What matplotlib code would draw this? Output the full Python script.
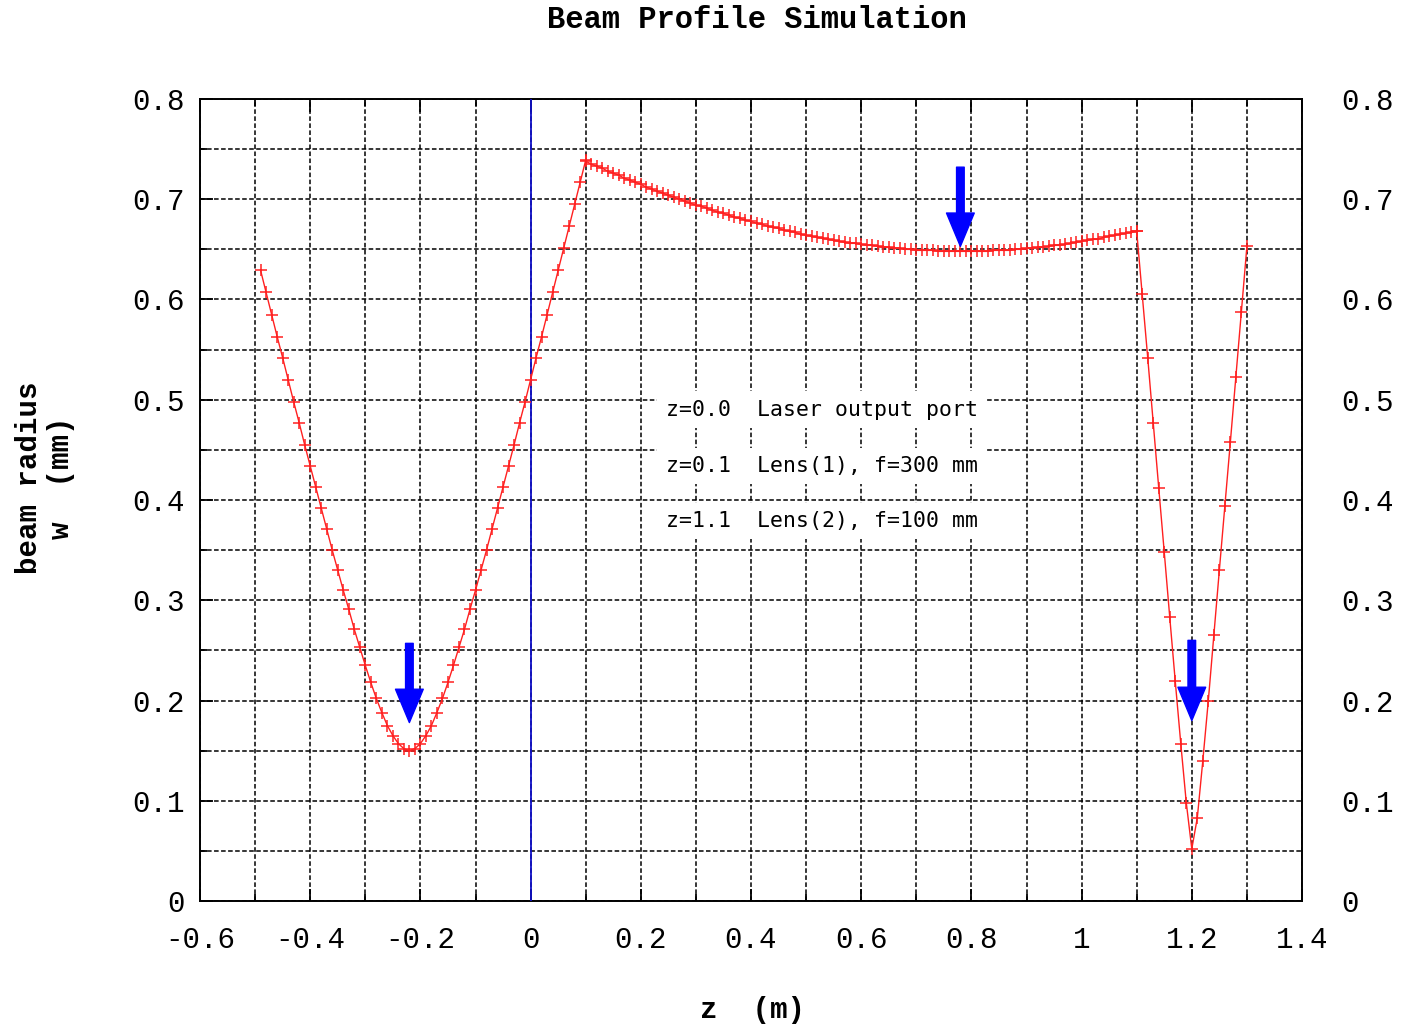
import numpy as np
import matplotlib
matplotlib.use('Agg')
from matplotlib import pyplot as plt

# beam radius, one point per 0.01 m
z1 = np.round(np.arange(-0.49, 0.105, 0.01), 2)
w1 = [0.629, 0.607, 0.585, 0.563, 0.542, 0.520, 0.498, 0.477, 0.455, 0.434,
      0.413, 0.392, 0.371, 0.350, 0.330, 0.310, 0.291, 0.271, 0.253, 0.235,
      0.218, 0.202, 0.188, 0.175, 0.165, 0.157, 0.152, 0.150, 0.152, 0.157,
      0.165, 0.175, 0.188, 0.202, 0.218, 0.235, 0.253, 0.271, 0.291, 0.310,
      0.330, 0.350, 0.371, 0.392, 0.413, 0.434, 0.455, 0.477, 0.498, 0.520,
      0.542, 0.563, 0.585, 0.607, 0.629, 0.651, 0.673, 0.695, 0.717, 0.739]

z2 = np.round(np.arange(0.10, 1.105, 0.01), 2)
w2 = [0.738, 0.735, 0.733, 0.731, 0.728, 0.726, 0.724, 0.721, 0.719, 0.717,
      0.715, 0.712, 0.710, 0.708, 0.706, 0.704, 0.702, 0.700, 0.698, 0.696,
      0.694, 0.693, 0.691, 0.689, 0.687, 0.686, 0.684, 0.682, 0.681, 0.679,
      0.678, 0.676, 0.675, 0.673, 0.672, 0.671, 0.669, 0.668, 0.667, 0.665,
      0.664, 0.663, 0.662, 0.661, 0.660, 0.659, 0.658, 0.657, 0.656, 0.656,
      0.655, 0.654, 0.654, 0.653, 0.652, 0.652, 0.651, 0.651, 0.650, 0.650,
      0.649, 0.649, 0.649, 0.649, 0.648, 0.648, 0.648, 0.648, 0.648, 0.648,
      0.648, 0.648, 0.648, 0.648, 0.649, 0.649, 0.649, 0.649, 0.650, 0.650,
      0.651, 0.651, 0.652, 0.652, 0.653, 0.654, 0.654, 0.655, 0.656, 0.657,
      0.658, 0.659, 0.660, 0.660, 0.662, 0.663, 0.664, 0.665, 0.666, 0.667,
      0.668]

z3 = np.round(np.arange(1.10, 1.305, 0.01), 2)
w3 = [0.668, 0.605, 0.542, 0.477, 0.412, 0.348, 0.283, 0.219, 0.157, 0.098,
      0.052, 0.083, 0.140, 0.200, 0.265, 0.330, 0.394, 0.458, 0.523, 0.588,
      0.653]

# waist markers: z, arrow top, arrow tip
arrows_z = [-0.22, 0.78, 1.20]
arrows_top = [0.257, 0.732, 0.260]
arrows_tip = [0.178, 0.653, 0.180]

notes = ['z=0.0  Laser output port',
         'z=0.1  Lens(1), f=300 mm',
         'z=1.1  Lens(2), f=100 mm']
notes_y = [0.49, 0.434, 0.379]

xticks = np.arange(-0.6, 1.41, 0.2)
xlabels = ['-0.6', '-0.4', '-0.2', '0', '0.2', '0.4', '0.6', '0.8', '1', '1.2', '1.4']
yticks = np.arange(0, 0.81, 0.1)
ylabels = ['0', '0.1', '0.2', '0.3', '0.4', '0.5', '0.6', '0.7', '0.8']

mono = 'Liberation Mono'
tsize = 21

fig = plt.figure(figsize=(14.01, 10.25), dpi=100)
ax = fig.add_axes([200 / 1401, 124 / 1025, 1102 / 1401, 802 / 1025])

ax.set_xlim(-0.6, 1.4)
ax.set_ylim(0, 0.8)
ax.set_xticks(xticks)
ax.set_xticks(np.arange(-0.5, 1.41, 0.2), minor=True)
ax.set_yticks(yticks)
ax.set_yticks(np.arange(0.05, 0.8, 0.1), minor=True)
ax.set_xticklabels(xlabels, fontfamily=mono, fontsize=tsize)
ax.set_yticklabels(ylabels, fontfamily=mono, fontsize=tsize)

ax.grid(True, which='both', color='black', linestyle=(0, (3, 1.6)), linewidth=1.1)
ax.set_axisbelow(True)
ax.tick_params(which='both', direction='in', top=True, right=True, width=1.3)
ax.tick_params(which='major', length=9)
ax.tick_params(which='minor', length=5)
ax.tick_params(axis='x', pad=18)
ax.tick_params(axis='y', pad=11)
for sp in ax.spines.values():
    sp.set_linewidth(1.4)

# right-hand labels sit further out
ax2 = ax.twinx()
ax2.set_ylim(0, 0.8)
ax2.set_yticks(yticks)
ax2.set_yticklabels(ylabels, fontfamily=mono, fontsize=tsize)
ax2.tick_params(axis='y', length=0, pad=28)
for sp in ax2.spines.values():
    sp.set_visible(False)

ax.axvline(0, color='#1010c8', linewidth=1.3, zorder=3)

for zz, ww in [(z1, w1), (z2, w2), (z3, w3)]:
    ax.plot(zz, ww, color='#ff2020', linewidth=1.0, marker='+',
            markersize=8, markeredgewidth=1.1, zorder=4)

for x, top, tip in zip(arrows_z, arrows_top, arrows_tip):
    ax.annotate('', xy=(x, tip), xytext=(x, top),
                arrowprops=dict(arrowstyle='simple,head_width=2.0,head_length=2.4,tail_width=0.55',
                                color='#0000ff', shrinkA=0, shrinkB=0),
                zorder=5)

for txt, y in zip(notes, notes_y):
    ax.text(0.245, y, txt, fontsize=15.5, family='DejaVu Sans Mono',
            va='center', ha='left', zorder=6,
            bbox=dict(facecolor='white', edgecolor='none', pad=6))

fig.text(757 / 1401, 1 - 20 / 1025, 'Beam Profile Simulation', ha='center',
         va='center', fontsize=22, family=mono, fontweight='bold')
fig.text(752 / 1401, 1 - 1010 / 1025, 'z  (m)', ha='center', va='center',
         fontsize=21, family=mono, fontweight='bold')
fig.text(45 / 1401, 1 - 478 / 1025, 'beam radius\nw  (mm)', ha='center',
         va='center', rotation=90, fontsize=21, family=mono,
         fontweight='bold', linespacing=1.15, multialignment='center')

fig.savefig('out.png', dpi=100)
